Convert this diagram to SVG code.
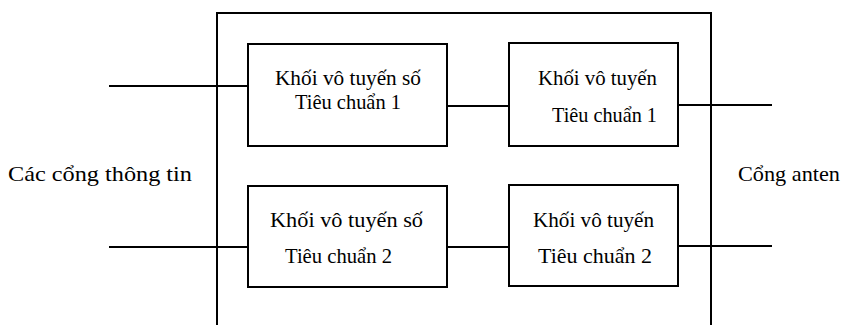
<svg xmlns="http://www.w3.org/2000/svg" width="848" height="325" viewBox="0 0 848 325">
<style>
.box{fill:#fff;stroke:#000;stroke-width:2}
.ln{stroke:#000;stroke-width:2;fill:none}
.t{font-family:"Liberation Serif","Times New Roman",serif;font-size:21px;fill:#000}
</style>
<rect width="848" height="325" fill="#fff"/>
<g id="frame">
<path class="ln" d="M217,326 V13 H711 V326"/>
</g>
<g id="connectors">
<line class="ln" x1="109" y1="86" x2="248" y2="86"/>
<line class="ln" x1="109" y1="247" x2="248" y2="247"/>
<line class="ln" x1="447" y1="106" x2="509" y2="106"/>
<line class="ln" x1="447" y1="247" x2="509" y2="247"/>
<line class="ln" x1="678" y1="105" x2="772" y2="105"/>
<line class="ln" x1="678" y1="246" x2="772" y2="246"/>
</g>
<g id="box1" class="t">
<rect class="box" x="248" y="44" width="199" height="102"/>
<text x="275" y="85" textLength="146" lengthAdjust="spacingAndGlyphs">Khối vô tuyến số</text>
<text x="295" y="109" textLength="106" lengthAdjust="spacingAndGlyphs">Tiêu chuẩn 1</text>
</g>
<g id="box2" class="t">
<rect class="box" x="509" y="43" width="169" height="103"/>
<text x="538" y="85" textLength="119" lengthAdjust="spacingAndGlyphs">Khối vô tuyến</text>
<text x="552" y="122" textLength="105" lengthAdjust="spacingAndGlyphs">Tiêu chuẩn 1</text>
</g>
<g id="box3" class="t">
<rect class="box" x="248" y="186" width="199" height="101"/>
<text x="270" y="227" textLength="153" lengthAdjust="spacingAndGlyphs">Khối vô tuyến số</text>
<text x="285" y="263" textLength="107" lengthAdjust="spacingAndGlyphs">Tiêu chuẩn 2</text>
</g>
<g id="box4" class="t">
<rect class="box" x="509" y="185" width="169" height="101"/>
<text x="533" y="227" textLength="121" lengthAdjust="spacingAndGlyphs">Khối vô tuyến</text>
<text x="538" y="263" textLength="114" lengthAdjust="spacingAndGlyphs">Tiêu chuẩn 2</text>
</g>
<g id="ports-in" class="t">
<text x="8" y="181" textLength="184" lengthAdjust="spacingAndGlyphs">Các cổng thông tin</text>
</g>
<g id="ports-ant" class="t">
<text x="738" y="181" textLength="102" lengthAdjust="spacingAndGlyphs">Cổng anten</text>
</g>
</svg>
